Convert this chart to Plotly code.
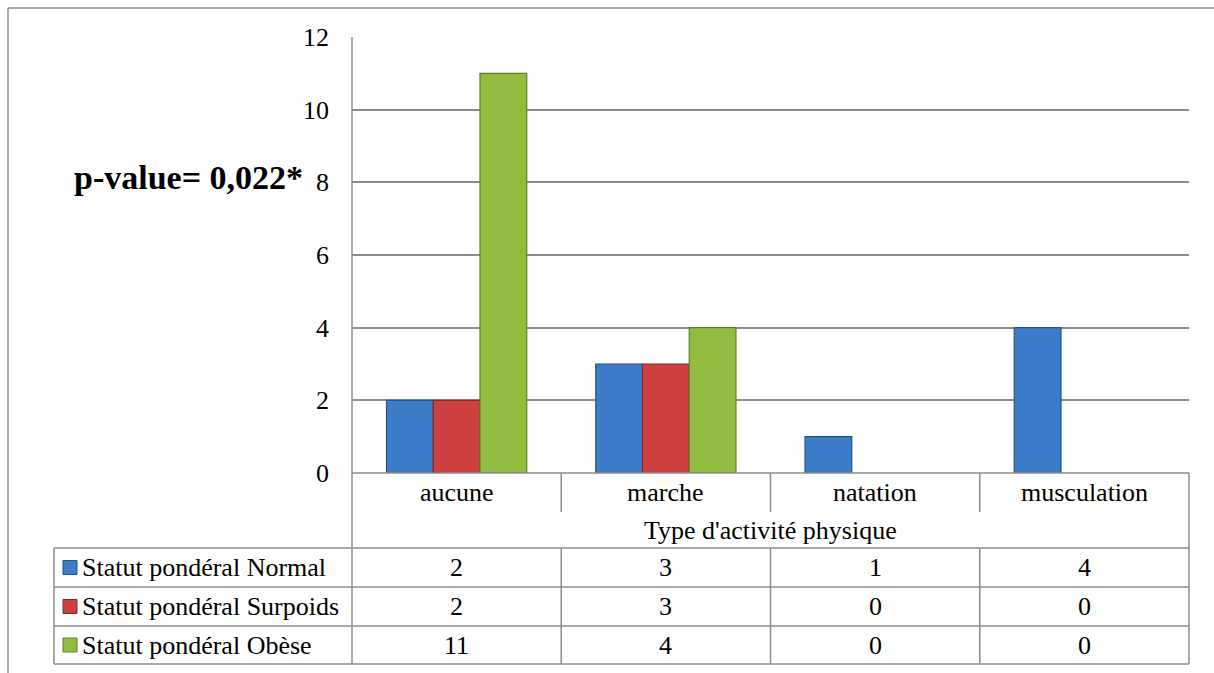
import plotly.graph_objects as go

categories = ["aucune", "marche", "natation", "musculation"]
series_names = ["Statut pondéral Normal", "Statut pondéral Surpoids", "Statut pondéral Obèse"]
normal = [2, 3, 1, 4]
surpoids = [2, 3, 0, 0]
obese = [11, 4, 0, 0]
y_ticks = [0, 2, 4, 6, 8, 10, 12]
axis_title = "Type d'activité physique"
pvalue_text = "p-value= 0,022*"

series_values = [normal, surpoids, obese]
colors = ["#3D7CC9", "#CF4040", "#92BC40"]
edge_colors = ["#24528A", "#8E2828", "#617F26"]

W, H = 1214, 673
FONT = "'Liberation Serif', 'Times New Roman', 'DejaVu Serif', serif"
GRID = "#8C8C8C"
FS = 26

def px(x):
    return x / W

def py(y):
    return 1 - y / H

L, R, T, B = 352, 1189, 37, 473

fig = go.Figure()
for name, vals, c, ec in zip(series_names, series_values, colors, edge_colors):
    fig.add_trace(go.Bar(x=categories, y=[v if v else None for v in vals], name=name,
                         marker=dict(color=c, line=dict(color=ec, width=1.2))))

shapes = []
def line(x0, y0, x1, y1, w=1.5, color=GRID):
    shapes.append(dict(type="line", xref="paper", yref="paper",
                       x0=px(x0), y0=py(y0), x1=px(x1), y1=py(y1),
                       line=dict(color=color, width=w)))

# outer chart border (cropped at right / bottom)
line(8, 8, W + 5, 8)
line(8, 8, 8, H + 5)

# axis / table lines
line(L, T, L, 664)
line(L, B, R, B)
line(R, B, R, 664)
colw = (R - L) / 4
for i in range(1, 4):
    xx = L + i * colw
    line(xx, B, xx, 512)
    line(xx, 548, xx, 664)
row_y = [548, 587, 626, 664]
for yy in row_y:
    line(54, yy, R, yy)
line(54, 548, 54, 664)

annotations = []
for i, cat in enumerate(categories):
    annotations.append(dict(x=px(L + (i + 0.5) * colw), y=py(493), xref="paper", yref="paper",
                            text=cat, showarrow=False, xanchor="center", yanchor="middle",
                            font=dict(family=FONT, size=FS, color="#000")))
annotations.append(dict(x=px(L + 2 * colw), y=py(530), xref="paper", yref="paper",
                        text=axis_title, showarrow=False, xanchor="center", yanchor="middle",
                        font=dict(family=FONT, size=FS, color="#000")))
for r, (name, vals, c, ec) in enumerate(zip(series_names, series_values, colors, edge_colors)):
    yc = (row_y[r] + row_y[r + 1]) / 2
    shapes.append(dict(type="rect", xref="paper", yref="paper",
                       x0=px(63), x1=px(77), y0=py(yc - 7), y1=py(yc + 7),
                       fillcolor=c, line=dict(color=ec, width=1)))
    annotations.append(dict(x=px(80), y=py(yc), xref="paper", yref="paper",
                            text=name, showarrow=False, xanchor="left", yanchor="middle",
                            font=dict(family=FONT, size=FS, color="#000")))
    for i, v in enumerate(vals):
        annotations.append(dict(x=px(L + (i + 0.5) * colw), y=py(yc), xref="paper", yref="paper",
                                text=str(v), showarrow=False, xanchor="center", yanchor="middle",
                                font=dict(family=FONT, size=FS, color="#000")))

annotations.append(dict(x=px(305), y=py(178), xref="paper", yref="paper",
                        text="<b>" + pvalue_text + "</b>", showarrow=False,
                        xanchor="right", yanchor="middle",
                        font=dict(family=FONT, size=34, color="#000")))

fig.update_layout(
    width=W, height=H,
    margin=dict(l=0, r=0, t=0, b=0, pad=0, autoexpand=False),
    paper_bgcolor="white", plot_bgcolor="white",
    barmode="group", bargap=0.33, bargroupgap=0,
    showlegend=False,
    shapes=shapes, annotations=annotations,
    xaxis=dict(domain=[px(L), px(R)], range=[-0.5, 3.5], showticklabels=False,
               showgrid=False, zeroline=False, showline=False, fixedrange=True,
               automargin=False),
    yaxis=dict(domain=[py(B), py(T)], range=[0, 12], tickvals=y_ticks,
               showgrid=True, gridcolor=GRID, gridwidth=1.5, zeroline=False,
               showline=False, ticks="", ticklabelstandoff=22, automargin=False,
               tickfont=dict(family=FONT, size=FS, color="#000"), fixedrange=True),
)

fig.write_html("out.html")
